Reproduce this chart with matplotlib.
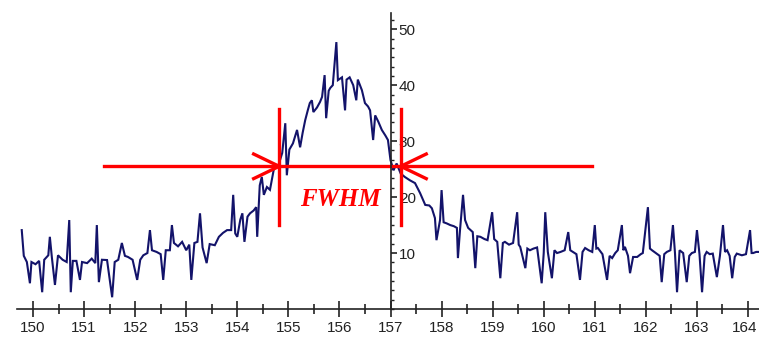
import matplotlib
matplotlib.use('Agg')
import matplotlib.pyplot as plt
from matplotlib.ticker import MultipleLocator, AutoMinorLocator

# spectrum (position, intensity)
wavelength = [
    149.78, 149.82, 149.88, 149.94, 149.97, 150.05, 150.12, 150.18, 150.22, 150.30,
    150.33, 150.37, 150.43, 150.49, 150.58, 150.66, 150.71, 150.74, 150.78, 150.85,
    150.92, 150.96, 151.06, 151.15, 151.22, 151.25, 151.29, 151.35, 151.45, 151.55,
    151.60, 151.67, 151.74, 151.80, 151.86, 151.95, 152.04, 152.10, 152.16, 152.24,
    152.29, 152.33, 152.42, 152.50, 152.55, 152.60, 152.68, 152.72, 152.76, 152.84,
    152.92, 153.00, 153.06, 153.10, 153.16, 153.22, 153.27, 153.32, 153.40, 153.46,
    153.56, 153.64, 153.72, 153.80, 153.88, 153.92, 153.96, 154.00, 154.06, 154.10,
    154.14, 154.20, 154.25, 154.32, 154.37, 154.39, 154.44, 154.48, 154.52, 154.58,
    154.64, 154.72, 154.80, 154.88, 154.94, 154.97, 155.02, 155.09, 155.17, 155.23,
    155.28, 155.33, 155.38, 155.42, 155.46, 155.49, 155.56, 155.62, 155.66, 155.71,
    155.74, 155.79, 155.82, 155.87, 155.94, 155.97, 156.05, 156.11, 156.14, 156.20,
    156.27, 156.33, 156.36, 156.44, 156.50, 156.56, 156.60, 156.66, 156.70, 156.76,
    156.83, 156.90, 156.95, 157.00, 157.06, 157.12, 157.20, 157.28, 157.38, 157.48,
    157.58, 157.68, 157.76, 157.81, 157.87, 157.90, 157.97, 158.00, 158.04, 158.10,
    158.17, 158.24, 158.30, 158.32, 158.36, 158.42, 158.46, 158.52, 158.61, 158.66,
    158.70, 158.76, 158.84, 158.90, 158.99, 159.03, 159.09, 159.15, 159.20, 159.24,
    159.32, 159.40, 159.48, 159.51, 159.54, 159.64, 159.68, 159.73, 159.80, 159.87,
    159.96, 160.00, 160.03, 160.08, 160.16, 160.21, 160.26, 160.33, 160.41, 160.48,
    160.52, 160.57, 160.64, 160.71, 160.76, 160.81, 160.88, 160.95, 161.00, 161.03,
    161.06, 161.15, 161.24, 161.29, 161.34, 161.40, 161.45, 161.53, 161.56, 161.59,
    161.65, 161.69, 161.75, 161.83, 161.90, 161.94, 162.04, 162.08, 162.12, 162.21,
    162.27, 162.31, 162.36, 162.41, 162.48, 162.53, 162.57, 162.61, 162.66, 162.73,
    162.80, 162.85, 162.90, 162.96, 163.00, 163.05, 163.10, 163.15, 163.19, 163.25,
    163.31, 163.39, 163.45, 163.51, 163.55, 163.59, 163.64, 163.69, 163.74, 163.78,
    163.88, 163.96, 164.04, 164.07, 164.10, 164.16, 164.22,
]
intensity = [
    14.1, 9.5, 8.4, 4.6, 8.4, 8.0, 8.6, 3.0, 8.8, 9.6,
    12.9, 9.2, 4.3, 9.6, 8.8, 8.4, 15.9, 3.0, 8.6, 8.6,
    5.2, 8.4, 8.2, 9.0, 8.2, 15.0, 4.8, 8.8, 8.75, 2.1,
    8.4, 8.8, 11.8, 9.5, 9.3, 8.8, 5.2, 8.8, 9.6, 10.0,
    14.1, 10.5, 10.2, 9.8, 5.2, 10.5, 10.5, 15.0, 11.8, 11.2,
    12.0, 10.5, 11.5, 5.2, 11.8, 12.0, 17.1, 11.0, 8.2, 11.6,
    11.4, 12.9, 13.6, 14.1, 14.1, 20.4, 13.5, 12.9, 16.0, 17.1,
    12.0, 16.5, 17.1, 17.6, 18.2, 12.9, 22.1, 23.6, 20.4, 21.8,
    21.3, 25.2, 25.5, 27.9, 33.2, 23.9, 28.5, 29.6, 32.0, 28.9,
    31.5, 33.75, 35.5, 36.8, 37.3, 35.2, 36.0, 37.0, 37.9, 41.8,
    34.1, 39.0, 39.5, 40.0, 47.7, 40.9, 41.4, 35.5, 41.0, 41.4,
    40.0, 37.3, 41.0, 39.1, 36.8, 36.2, 35.5, 30.2, 34.6, 33.5,
    32.0, 31.0, 30.2, 26.6, 24.8, 26.0, 24.2, 23.6, 23.0, 22.5,
    20.7, 18.6, 18.5, 18.0, 16.25, 12.3, 15.9, 21.25, 15.5, 15.3,
    15.0, 14.8, 14.5, 9.1, 14.0, 20.4, 15.9, 14.5, 13.75, 7.3,
    13.0, 12.9, 12.5, 12.3, 17.3, 12.5, 12.0, 5.5, 11.8, 12.0,
    11.5, 11.8, 17.3, 11.5, 11.1, 7.3, 10.8, 10.5, 10.8, 11.0,
    4.6, 10.0, 17.3, 10.2, 5.5, 10.5, 10.0, 10.2, 10.5, 13.75,
    10.5, 10.2, 9.8, 5.2, 10.2, 10.9, 10.5, 10.2, 15.0, 10.8,
    10.9, 9.8, 5.2, 9.5, 9.1, 10.0, 10.5, 15.0, 10.5, 11.1,
    9.5, 6.4, 9.3, 9.3, 9.8, 10.0, 18.2, 10.8, 10.5, 9.9,
    9.5, 4.8, 9.8, 10.2, 10.5, 15.0, 10.0, 3.0, 10.5, 10.0,
    4.8, 9.5, 10.0, 10.2, 14.1, 9.8, 3.0, 9.5, 10.2, 9.8,
    9.9, 5.7, 9.5, 15.0, 10.2, 10.5, 9.5, 5.5, 9.3, 9.9,
    9.6, 9.8, 14.1, 10.0, 10.0, 10.2, 10.2,
]

x_ticks = list(range(150, 165))
y_ticks = [10, 20, 30, 40, 50]

# FWHM annotation
half_max = 25.5
fwhm_left = 154.82
fwhm_right = 157.2
bar_lo, bar_hi = 15.0, 35.7
guide_from, guide_to = 151.39, 160.95

red = '#ff0000'
ink = '#222222'
tick_font = 'Liberation Sans'
tick_size = 11

fig = plt.figure(figsize=(7.59, 3.40), dpi=100)
ax = fig.add_axes([17 / 759, 31 / 340, 742 / 759, 296 / 340])
ax.set_xlim(149.687, 164.215)
ax.set_ylim(0, 52.9)

ax.plot(wavelength, intensity, color='#13136a', lw=1.5, solid_joinstyle='miter')

# spines: x axis at bottom, y axis crossing at 157
ax.spines['top'].set_visible(False)
ax.spines['left'].set_visible(False)
ax.spines['right'].set_position(('data', 157))
for s in ('bottom', 'right'):
    ax.spines[s].set_linewidth(1.2)
    ax.spines[s].set_color(ink)
ax.yaxis.tick_right()

# last label sits on the figure edge, drawn separately a touch to the left
ax.set_xticks(x_ticks)
ax.set_xticklabels([str(v) for v in x_ticks[:-1]] + [''])
ax.xaxis.set_minor_locator(MultipleLocator(0.5))
ax.set_yticks(y_ticks)
ax.yaxis.set_minor_locator(AutoMinorLocator(6))

ax.tick_params(axis='x', which='major', direction='inout', length=11, width=1.2,
               color=ink, pad=3, labelsize=tick_size, labelcolor=ink)
ax.tick_params(axis='x', which='minor', direction='inout', length=7, width=1.2, color=ink)
ax.tick_params(axis='y', which='major', direction='out', length=4.5, width=1.2,
               color=ink, pad=1.5, labelsize=tick_size, labelcolor=ink)
ax.tick_params(axis='y', which='minor', direction='out', length=2.5, width=1.0, color=ink)
for lab in ax.get_xticklabels() + ax.get_yticklabels():
    lab.set_family(tick_font)
ax.annotate(str(x_ticks[-1]), xy=(x_ticks[-1], 0), xytext=(-2.5, -8.5),
            textcoords='offset points', ha='center', va='top',
            fontsize=tick_size, family=tick_font, color=ink, annotation_clip=False)

# red FWHM marks
lw = 2.4
ax.plot([guide_from, guide_to], [half_max, half_max], color=red, lw=lw)
ax.plot([fwhm_left, fwhm_left], [bar_lo, bar_hi], color=red, lw=lw)
ax.plot([fwhm_right, fwhm_right], [bar_lo, bar_hi], color=red, lw=lw)
head_len, head_half = 0.5, 2.2
ax.plot([fwhm_left - head_len, fwhm_left, fwhm_left - head_len],
        [half_max + head_half, half_max, half_max - head_half], color=red, lw=lw)
ax.plot([fwhm_right + head_len, fwhm_right, fwhm_right + head_len],
        [half_max + head_half, half_max, half_max - head_half], color=red, lw=lw)
ax.text((fwhm_left + fwhm_right) / 2, 19.6, 'FWHM', color=red, fontsize=18,
        family='Liberation Serif', style='italic', weight='bold',
        ha='center', va='center')

fig.savefig('out.png', dpi=100)
